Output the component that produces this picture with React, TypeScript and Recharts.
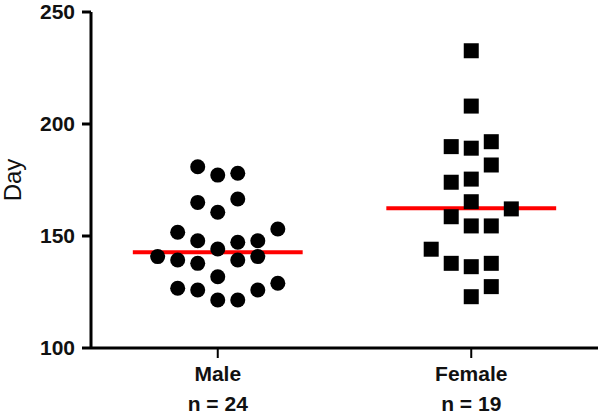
import React from 'react';
import { ScatterChart, Scatter, XAxis, YAxis, ReferenceLine, Label } from 'recharts';

const categories = ['Male', 'Female'];
const maleDays = [180.9, 177.2, 178.0, 165.0, 160.6, 166.5, 151.7, 147.9, 144.2, 147.2, 147.9, 153.1, 140.8, 139.3, 137.8, 139.3, 140.8, 131.8, 126.7, 125.9, 121.4, 121.4, 125.9, 128.9];
const maleColumns = [-1, 0, 1, -1, 0, 1, -2, -1, 0, 1, 2, 3, -3, -2, -1, 1, 2, 0, -2, -1, 0, 1, 2, 3];
const femaleDays = [232.7, 208.0, 189.9, 189.2, 192.1, 181.7, 174.0, 175.4, 165.3, 162.1, 158.6, 154.5, 154.5, 144.1, 137.8, 136.3, 137.8, 127.4, 122.9];
const femaleColumns = [0, 0, -1, 0, 1, 1, -1, 0, 0, 2, -1, 0, 1, -2, -1, 0, 1, 1, 0];
const medians = [142.8, 162.4];
const yTicks = [100, 150, 200, 250];
const yLabel = 'Day';

const COLUMN_STEP = 0.079;
const MEDIAN_HALF = 0.335;
const FONT = '"Liberation Sans", Arial, Helvetica, sans-serif';

const toPoints = (days: number[], cols: number[], idx: number) =>
  days.map((d, i) => ({ x: idx + 0.5 + cols[i] * COLUMN_STEP, y: d }));

const maleData = toPoints(maleDays, maleColumns, 0);
const femaleData = toPoints(femaleDays, femaleColumns, 1);
const counts = [maleDays.length, femaleDays.length];

const CircleShape = (props: any) => {
  const { cx, cy } = props;
  if (cx == null || cy == null) return null;
  return <circle cx={cx} cy={cy} r={7.5} fill="#000" />;
};

const SquareShape = (props: any) => {
  const { cx, cy } = props;
  if (cx == null || cy == null) return null;
  return <rect x={cx - 7.5} y={cy - 7.5} width={15} height={15} fill="#000" />;
};

const XTick = (props: any) => {
  const { x, y, payload } = props;
  const idx = Math.round(payload.value - 0.5);
  return (
    <g>
      <text x={x} y={y + 20.5} textAnchor="middle" fontFamily={FONT} fontWeight="bold" fontSize={21} fill="#111">
        {categories[idx]}
      </text>
      <text x={x} y={y + 50.5} textAnchor="middle" fontFamily={FONT} fontWeight="bold" fontSize={21} fill="#111">
        {`n = ${counts[idx]}`}
      </text>
    </g>
  );
};

const YLabelContent = (props: any) => {
  const vb = props.viewBox || {};
  const cx = 21;
  const cy = (vb.y ?? 12) + (vb.height ?? 336) / 2;
  return (
    <text
      x={cx}
      y={cy}
      transform={`rotate(-90 ${cx} ${cy})`}
      textAnchor="middle"
      fontFamily={FONT}
      fontSize={24}
      fill="#111"
    >
      {yLabel}
    </text>
  );
};

export default function App() {
  return (
    <div style={{ position: 'absolute', left: 0, top: 0, background: '#fff' }}>
      <ScatterChart width={600} height={417} margin={{ top: 12, right: 2, bottom: 0, left: 0 }}>
        <XAxis
          type="number"
          dataKey="x"
          domain={[0, 2]}
          ticks={[0.5, 1.5]}
          height={69}
          tickSize={10}
          tickMargin={2}
          axisLine={{ stroke: '#000', strokeWidth: 3 }}
          tickLine={{ stroke: '#000', strokeWidth: 2 }}
          tick={<XTick />}
          interval={0}
        />
        <YAxis
          type="number"
          dataKey="y"
          domain={[100, 250]}
          ticks={yTicks}
          width={91}
          tickSize={9}
          tickMargin={7}
          axisLine={{ stroke: '#000', strokeWidth: 3 }}
          tickLine={{ stroke: '#000', strokeWidth: 3 }}
          tick={{ fontFamily: FONT, fontWeight: 'bold', fontSize: 21, fill: '#111' }}
          interval={0}
        >
          <Label content={<YLabelContent />} />
        </YAxis>
        <Scatter data={maleData} shape={<CircleShape />} isAnimationActive={false} />
        <Scatter data={femaleData} shape={<SquareShape />} isAnimationActive={false} />
        {medians.map((m, i) => (
          <ReferenceLine
            key={categories[i]}
            segment={[
              { x: i + 0.5 - MEDIAN_HALF, y: m },
              { x: i + 0.5 + MEDIAN_HALF, y: m },
            ]}
            stroke="#ff0000"
            strokeWidth={4}
          />
        ))}
      </ScatterChart>
    </div>
  );
}
